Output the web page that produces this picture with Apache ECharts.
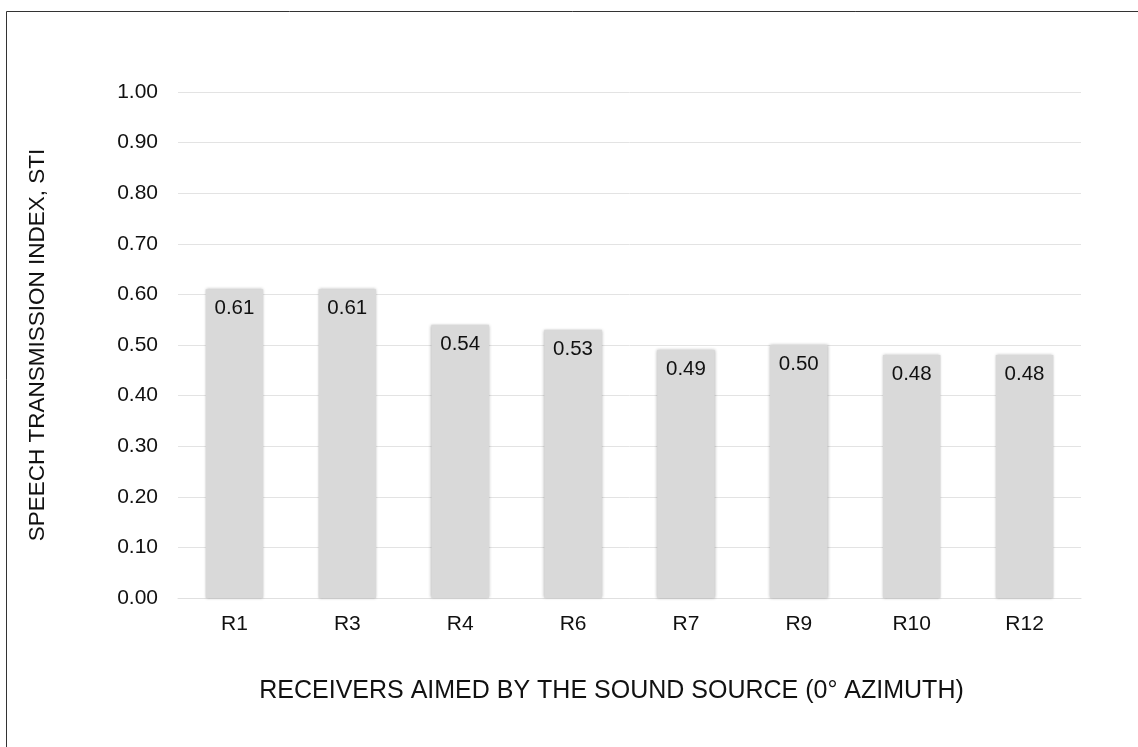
<!DOCTYPE html>
<html>
<head>
<meta charset="utf-8">
<script src="https://cdn.jsdelivr.net/npm/echarts@6/dist/echarts.min.js"></script>
<style>
html,body{margin:0;padding:0;background:#fff;}
#c{width:1138px;height:747px;}
</style>
</head>
<body>
<div id="c"></div>
<script>
const categories = ['R1','R3','R4','R6','R7','R9','R10','R12'];
const stiValues = [0.61, 0.61, 0.54, 0.53, 0.49, 0.50, 0.48, 0.48];
const yTicks = [0,0.1,0.2,0.3,0.4,0.5,0.6,0.7,0.8,0.9,1.0];

const font = 'Liberation Sans, Arial, Helvetica, sans-serif';
const chart = echarts.init(document.getElementById('c'));
chart.setOption({
  animation: false,
  backgroundColor: '#fff',
  graphic: [{
    type: 'rect',
    shape: {x: 6.5, y: 11.5, width: 1200, height: 800},
    style: {fill: 'none', stroke: '#333', lineWidth: 1},
    silent: true
  }],
  grid: {left: 178, right: 57, top: 92, bottom: 149, containLabel: false},
  xAxis: {
    type: 'category',
    data: categories,
    axisLine: {show: true, lineStyle: {color: '#e0e0e0'}},
    axisTick: {show: false},
    axisLabel: {color: '#111', fontSize: 21, fontFamily: font, margin: 16},
    name: 'RECEIVERS AIMED BY THE SOUND SOURCE (0° AZIMUTH)',
    nameLocation: 'middle',
    nameGap: 81,
    nameTextStyle: {color: '#111', fontSize: 25, fontFamily: font, padding: [0, 36, 0, 0]}
  },
  yAxis: {
    type: 'value',
    min: yTicks[0],
    max: yTicks[yTicks.length-1],
    interval: 0.1,
    axisLine: {show: false},
    axisTick: {show: false},
    splitLine: {lineStyle: {color: '#e3e3e3'}},
    axisLabel: {color: '#111', fontSize: 21, fontFamily: font, margin: 20,
      formatter: v => v.toFixed(2)},
    name: 'SPEECH TRANSMISSION INDEX, STI',
    nameLocation: 'middle',
    nameGap: 129,
    nameTextStyle: {color: '#111', fontSize: 22.5, fontFamily: font}
  },
  series: [{
    type: 'bar',
    data: stiValues,
    barWidth: '51%',
    itemStyle: {color: '#d9d9d9', shadowBlur: 3, shadowColor: 'rgba(0,0,0,0.3)', shadowOffsetX: 0, shadowOffsetY: 0},
    label: {show: true, position: 'insideTop', distance: 9, color: '#111', fontSize: 20.5, fontFamily: font,
      formatter: p => p.value.toFixed(2)}
  }]
});
</script>
</body>
</html>
